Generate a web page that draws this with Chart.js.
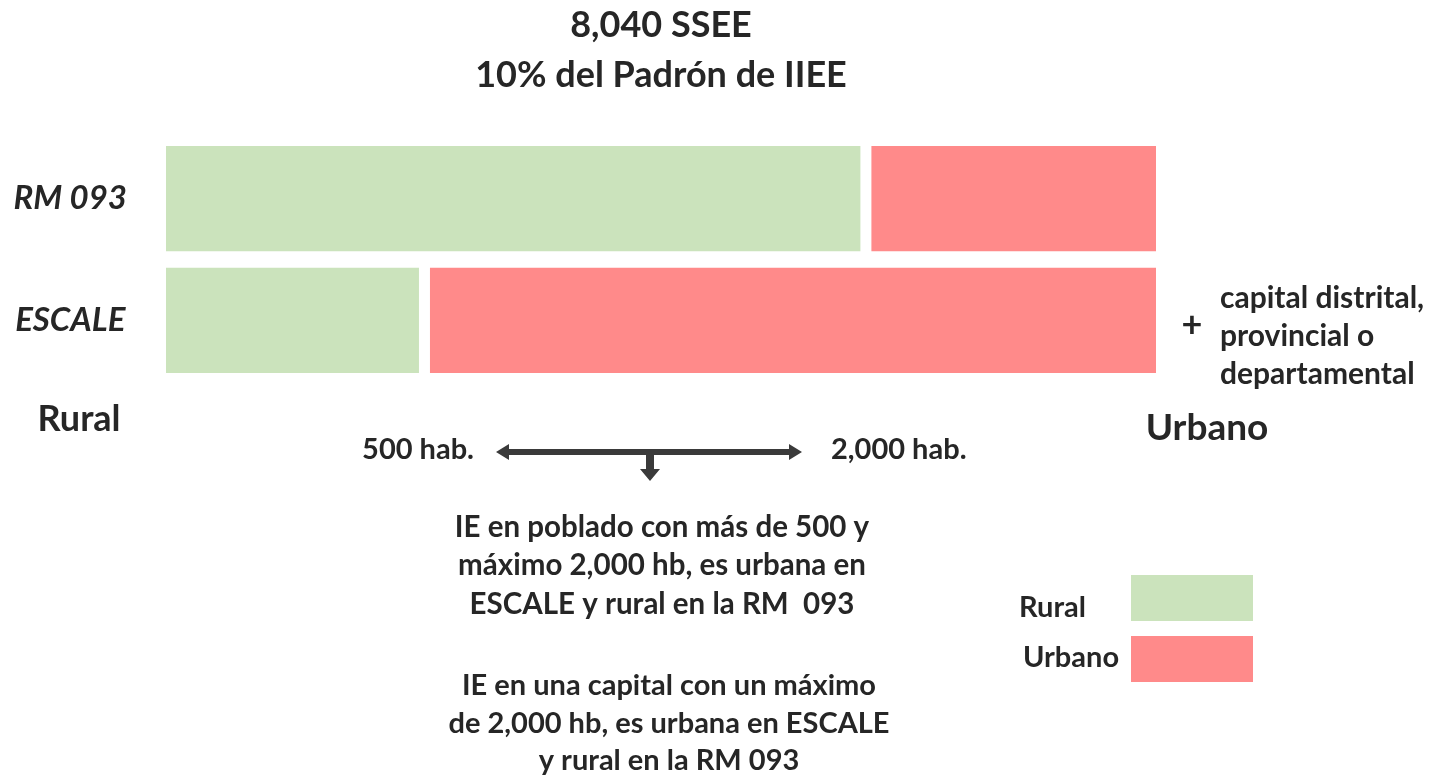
<!DOCTYPE html>
<html>
<head>
<meta charset="utf-8">
<script src="https://cdn.jsdelivr.net/npm/chart.js@4/dist/chart.umd.min.js"></script>
<style>
  html,body{margin:0;padding:0;background:#fff;}
  #wrap{width:1435px;height:775px;}
</style>
</head>
<body>
<div id="wrap"><canvas id="c" width="1435" height="775"></canvas></div>
<script>
// ---- data ----
const categories = ['RM 093', 'ESCALE'];
const seriesNames = ['Rural', 'Urbano'];
const ruralValues = [5680, 2095];
const urbanValues = [2360, 5945];
const totalSSEE = 8040;
const titleLines = ['8,040 SSEE', '10% del Padrón de IIEE'];
const noteLeft = '500 hab.';
const noteRight = '2,000 hab.';
const note1 = ['IE en poblado con más de 500 y', 'máximo 2,000 hb, es urbana en', 'ESCALE y rural en la RM  093'];
const note2 = ['IE en una capital con un máximo', 'de 2,000 hb, es urbana en ESCALE', 'y rural en la RM 093'];
const capitalNote = ['capital distrital,', 'provincial o', 'departamental'];

const GREEN = '#CBE3BC';
const RED = '#FF8A8A';
const TXT = '#262626';
const FONT = 'Lato, "Noto Sans", sans-serif';

const annotations = {
  id: 'annotations',
  afterDraw(chart) {
    const ctx = chart.ctx;
    ctx.save();
    ctx.fillStyle = TXT;
    ctx.textBaseline = 'middle';
    const txt = (s, x, y, size, align) => {
      ctx.font = 'bold ' + size + 'px ' + FONT;
      ctx.textAlign = align;
      ctx.fillText(s, x, y);
    };
    // axis end labels
    txt('Rural', 79, 419, 36, 'center');
    txt('Urbano', 1207, 428, 37, 'center');
    // plus + capital note
    txt('+', 1192, 325, 36, 'center');
    capitalNote.forEach((s, i) => txt(s, 1220, 298 + i * 38, 30, 'left'));
    // hab labels
    txt(noteLeft, 474, 450, 29, 'right');
    txt(noteRight, 831, 450, 29, 'left');
    // arrows
    ctx.fillStyle = '#3A3A3A';
    const y0 = 452, xl = 496, xr = 802, xm = 650;
    ctx.beginPath();
    ctx.moveTo(xl, y0);
    ctx.lineTo(xl + 13, y0 - 8);
    ctx.lineTo(xl + 13, y0 - 3);
    ctx.lineTo(xr - 13, y0 - 3);
    ctx.lineTo(xr - 13, y0 - 8);
    ctx.lineTo(xr, y0);
    ctx.lineTo(xr - 13, y0 + 8);
    ctx.lineTo(xr - 13, y0 + 3);
    ctx.lineTo(xm + 4, y0 + 3);
    ctx.lineTo(xm + 4, 469);
    ctx.lineTo(xm + 10, 469);
    ctx.lineTo(xm, 481);
    ctx.lineTo(xm - 10, 469);
    ctx.lineTo(xm - 4, 469);
    ctx.lineTo(xm - 4, y0 + 3);
    ctx.lineTo(xl + 13, y0 + 3);
    ctx.lineTo(xl + 13, y0 + 8);
    ctx.closePath();
    ctx.fill();
    ctx.fillStyle = TXT;
    // notes
    note1.forEach((s, i) => txt(s, 662, 527 + i * 38.5, 29.5, 'center'));
    note2.forEach((s, i) => txt(s, 669, 686 + i * 37.5, 29, 'center'));
    // legend
    const ds = chart.data.datasets;
    const legendY = [598, 659];
    const labelX = [1019, 1023];
    const labelY = [608, 658];
    ds.forEach((d, i) => {
      ctx.fillStyle = d.backgroundColor;
      ctx.fillRect(1131, legendY[i] - 23, 122, 46);
      ctx.fillStyle = TXT;
      txt(d.label, labelX[i], labelY[i], 29, 'left');
    });
    ctx.restore();
  }
};

new Chart(document.getElementById('c'), {
  type: 'bar',
  data: {
    labels: categories,
    datasets: [
      {
        label: seriesNames[0],
        data: ruralValues,
        backgroundColor: GREEN,
        borderColor: '#ffffff',
        borderWidth: {top: 0, right: 5, bottom: 0, left: 0},
        borderSkipped: false,
        categoryPercentage: 1,
        barPercentage: 0.87
      },
      {
        label: seriesNames[1],
        data: urbanValues,
        backgroundColor: RED,
        borderColor: '#ffffff',
        borderWidth: {top: 0, right: 0, bottom: 0, left: 6},
        borderSkipped: false,
        categoryPercentage: 1,
        barPercentage: 0.87
      }
    ]
  },
  options: {
    indexAxis: 'y',
    responsive: false,
    animation: false,
    layout: {padding: {top: 0, left: 0, right: 279, bottom: 394}},
    scales: {
      x: {stacked: true, min: 0, max: totalSSEE, display: false},
      y: {
        stacked: true,
        grid: {display: false},
        border: {display: false},
        afterFit(scale) { scale.width = 166; },
        ticks: {
          color: TXT,
          padding: 31,
          crossAlign: 'center',
          font: {family: FONT, size: 33, weight: 'bold', style: 'italic'}
        }
      }
    },
    plugins: {
      legend: {display: false},
      tooltip: {enabled: false},
      title: {
        display: true,
        text: titleLines,
        fullSize: false,
        color: TXT,
        font: {family: FONT, size: 36, weight: 'bold', lineHeight: 1.389},
        padding: {top: 0, bottom: 38}
      }
    }
  },
  plugins: [annotations]
});
</script>
</body>
</html>
